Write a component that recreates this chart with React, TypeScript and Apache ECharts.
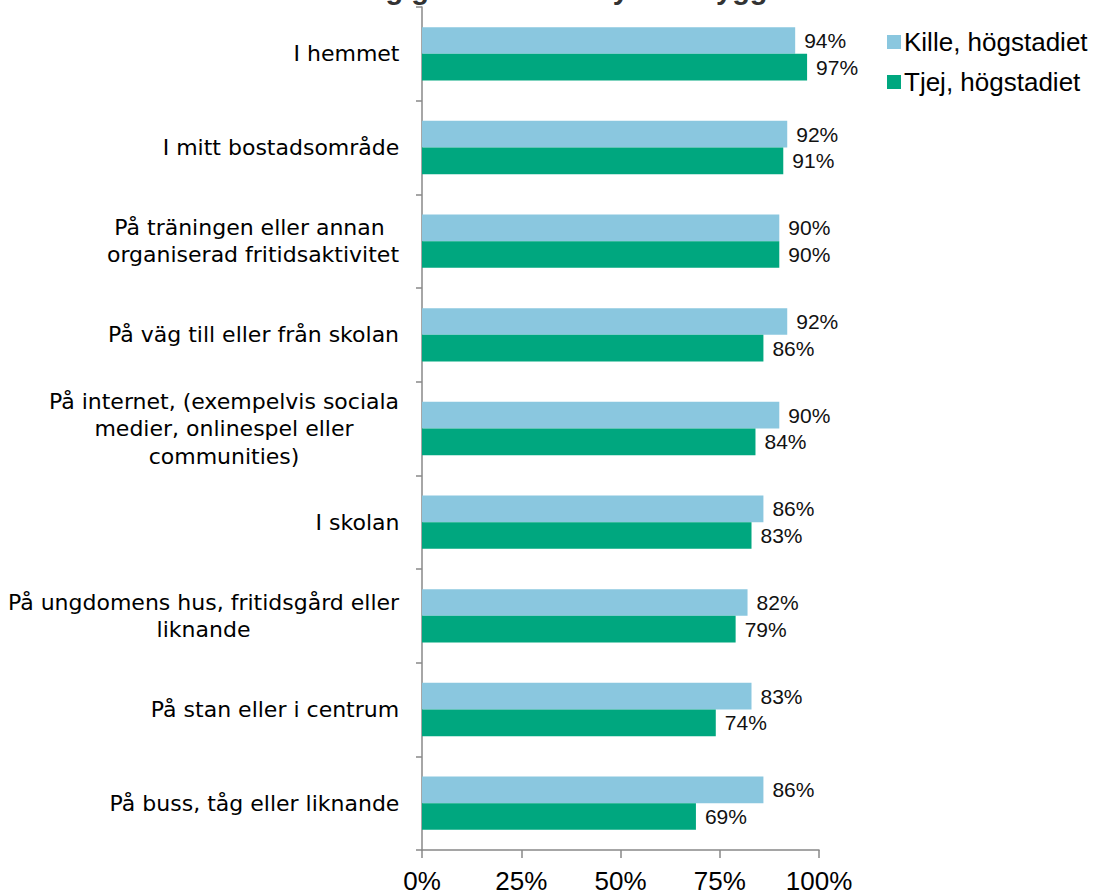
import React, { useEffect, useRef } from "react";
import * as echarts from "echarts";

const categories: string[] = [
  "I hemmet",
  "I mitt bostadsområde",
  "På träningen eller annan \norganiserad fritidsaktivitet",
  "På väg till eller från skolan",
  "På internet, (exempelvis sociala\nmedier, onlinespel eller\ncommunities)",
  "I skolan",
  "På ungdomens hus, fritidsgård eller\nliknande",
  "På stan eller i centrum",
  "På buss, tåg eller liknande",
];
const killeValues: number[] = [94, 92, 90, 92, 90, 86, 82, 83, 86];
const tjejValues: number[] = [97, 91, 90, 86, 84, 83, 79, 74, 69];
const seriesNames: string[] = ["Kille, högstadiet", "Tjej, högstadiet"];
const xTicks: number[] = [0, 25, 50, 75, 100];
const titleText = "Andel elever som känner sig ganska eller mycket trygga";

const FONT = "'Liberation Sans', Arial, sans-serif";
const CAT_FONT = "'DejaVu Sans', sans-serif";
const CAT_SIZE = 22;

function measure(text: string, size: number): number {
  const c = document.createElement("canvas").getContext("2d");
  if (!c) return text.length * size * 0.55;
  c.font = `${size}px "DejaVu Sans", sans-serif`;
  return c.measureText(text).width;
}

export default function App() {
  const ref = useRef<HTMLDivElement>(null);
  useEffect(() => {
    if (!ref.current) return;
    const chart = echarts.init(ref.current, undefined, { renderer: "svg" });
    const rich: Record<string, any> = {};
    categories.forEach((cat, i) => {
      const lines = cat.split("\n");
      const w = Math.max(...lines.map((l) => measure(l, CAT_SIZE)));
      rich["c" + i] = {
        width: Math.ceil(w) + 1,
        align: "center",
        fontSize: CAT_SIZE,
        lineHeight: 27.5,
        fontFamily: CAT_FONT,
        color: "#000",
      };
    });
    const valueLabel = {
      show: true,
      position: "right",
      distance: 9,
      formatter: "{c}%",
      fontSize: 21,
      color: "#111",
      fontFamily: FONT,
    };
    chart.setOption({
      animation: false,
      textStyle: { fontFamily: FONT },
      grid: { left: 422, right: 285, top: 7, bottom: 44, containLabel: false },
      legend: {
        orient: "vertical",
        left: 882,
        top: 24,
        itemWidth: 14,
        itemHeight: 14,
        itemGap: 14,
        icon: "rect",
        data: seriesNames,
        textStyle: { fontSize: 26, color: "#000", fontFamily: FONT, padding: [0, 0, 0, -2] },
      },
      graphic: [
        {
          type: "text",
          left: 10,
          top: -26,
          style: {
            text: titleText,
            fontSize: 29,
            fontWeight: "bold",
            fontFamily: FONT,
            fill: "#333",
          },
        },
      ],
      xAxis: {
        type: "value",
        min: 0,
        max: 100,
        interval: 25,
        splitLine: { show: false },
        axisLine: { show: true, lineStyle: { color: "#888", width: 1.5 } },
        axisTick: { show: true, length: 8, lineStyle: { color: "#888", width: 1.5 } },
        axisLabel: {
          margin: 18,
          fontSize: 26,
          color: "#000",
          fontFamily: FONT,
          formatter: (v: number) => (xTicks.includes(v) ? v + "%" : ""),
        },
      },
      yAxis: {
        type: "category",
        inverse: true,
        data: categories,
        axisLine: { show: true, lineStyle: { color: "#888", width: 1.5 } },
        axisTick: { show: true, length: 6, alignWithLabel: false, lineStyle: { color: "#888", width: 1.5 } },
        axisLabel: {
          margin: 22,
          interval: 0,
          formatter: (value: string, index: number) =>
            value
              .split("\n")
              .map((l) => `{c${index}|${l}}`)
              .join("\n"),
          rich,
        },
      },
      series: [
        {
          name: seriesNames[0],
          type: "bar",
          data: killeValues,
          barGap: "0%",
          barCategoryGap: "43%",
          itemStyle: { color: "#8AC7DF" },
          label: valueLabel,
        },
        {
          name: seriesNames[1],
          type: "bar",
          data: tjejValues,
          barGap: "0%",
          barCategoryGap: "43%",
          itemStyle: { color: "#00A77F" },
          label: valueLabel,
        },
      ],
    });
    return () => chart.dispose();
  }, []);
  return <div ref={ref} style={{ width: 1104, height: 894, position: "absolute", left: 0, top: 0 }} />;
}
